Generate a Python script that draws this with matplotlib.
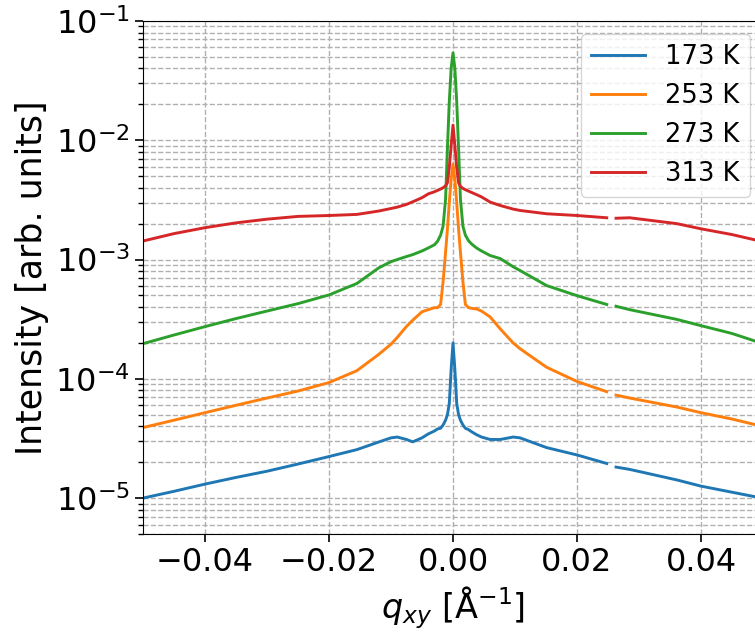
import numpy as np
import matplotlib
matplotlib.use("Agg")
import matplotlib.pyplot as plt
from matplotlib.ticker import LogLocator

# q_xy values (Å^-1); NaN entry marks the detector gap
q = [-0.050, -0.045, -0.040, -0.035, -0.030, -0.025, -0.020, -0.0155, -0.012, -0.010, -0.009,
     -0.0075, -0.0065, -0.005, -0.004, -0.003, -0.0025, -0.002, -0.0016, -0.0012, -0.0009,
     -0.0006, -0.0003, 0.0, 0.0003, 0.0006, 0.0009, 0.0012, 0.0016, 0.002, 0.0025, 0.003,
     0.0038, 0.0046, 0.006, 0.0076, 0.0097, 0.0108, 0.0151, 0.020, 0.0248, 0.0255, 0.0263,
     0.0285, 0.0361, 0.040, 0.045, 0.049]

i_173 = [1.0e-5, 1.14e-5, 1.31e-5, 1.49e-5, 1.68e-5, 1.93e-5, 2.23e-5, 2.55e-5, 2.95e-5, 3.2e-5, 3.25e-5,
         3.1e-5, 2.96e-5, 3.2e-5, 3.45e-5, 3.65e-5, 3.8e-5, 3.85e-5, 4.1e-5, 4.5e-5, 5.0e-5,
         6.2e-5, 1.2e-4, 2.0e-4, 1.2e-4, 6.2e-5, 5.0e-5, 4.5e-5, 4.1e-5, 3.85e-5, 3.75e-5, 3.6e-5,
         3.4e-5, 3.25e-5, 3.1e-5, 3.1e-5, 3.25e-5, 3.2e-5, 2.65e-5, 2.30e-5, 1.95e-5, np.nan, 1.82e-5,
         1.74e-5, 1.42e-5, 1.26e-5, 1.12e-5, 1.02e-5]

i_253 = [3.9e-5, 4.5e-5, 5.2e-5, 6.0e-5, 6.9e-5, 7.9e-5, 9.3e-5, 1.17e-4, 1.6e-4, 1.95e-4, 2.22e-4,
         2.75e-4, 3.1e-4, 3.65e-4, 3.8e-4, 3.95e-4, 3.95e-4, 4.2e-4, 6.5e-4, 1.15e-3, 1.8e-3,
         3.0e-3, 4.7e-3, 6.3e-3, 4.7e-3, 3.0e-3, 1.8e-3, 1.15e-3, 6.5e-4, 4.2e-4, 3.95e-4, 3.9e-4,
         3.85e-4, 3.7e-4, 3.3e-4, 2.63e-4, 2.0e-4, 1.79e-4, 1.25e-4, 9.5e-5, 7.8e-5, np.nan, 7.3e-5,
         6.9e-5, 5.8e-5, 5.2e-5, 4.6e-5, 4.1e-5]

i_273 = [1.97e-4, 2.33e-4, 2.74e-4, 3.2e-4, 3.7e-4, 4.27e-4, 5.05e-4, 6.3e-4, 8.5e-4, 9.6e-4, 1.0e-3,
         1.06e-3, 1.1e-3, 1.18e-3, 1.25e-3, 1.33e-3, 1.42e-3, 1.6e-3, 1.9e-3, 3.2e-3, 8.5e-3,
         2.1e-2, 4.0e-2, 5.4e-2, 4.0e-2, 2.1e-2, 8.5e-3, 3.2e-3, 1.9e-3, 1.6e-3, 1.44e-3, 1.35e-3,
         1.25e-3, 1.18e-3, 1.08e-3, 1.02e-3, 8.7e-4, 8.1e-4, 6.05e-4, 4.98e-4, 4.2e-4, np.nan, 4.06e-4,
         3.8e-4, 3.15e-4, 2.79e-4, 2.4e-4, 2.05e-4]

i_313 = [1.43e-3, 1.65e-3, 1.85e-3, 2.03e-3, 2.18e-3, 2.30e-3, 2.34e-3, 2.39e-3, 2.55e-3, 2.68e-3, 2.75e-3,
         2.9e-3, 3.05e-3, 3.3e-3, 3.55e-3, 3.7e-3, 3.8e-3, 3.9e-3, 4.0e-3, 4.15e-3, 4.4e-3,
         5.9e-3, 9.0e-3, 1.34e-2, 9.0e-3, 5.9e-3, 4.4e-3, 4.1e-3, 3.95e-3, 3.85e-3, 3.75e-3, 3.65e-3,
         3.5e-3, 3.35e-3, 3.03e-3, 2.84e-3, 2.65e-3, 2.58e-3, 2.42e-3, 2.34e-3, 2.24e-3, np.nan, 2.22e-3,
         2.24e-3, 2.0e-3, 1.81e-3, 1.62e-3, 1.45e-3]

labels = ["173 K", "253 K", "273 K", "313 K"]
series = [i_173, i_253, i_273, i_313]
colors = ["#1f77b4", "#ff7f0e", "#2ca02c", "#d62728"]
xticks = [-0.04, -0.02, 0.0, 0.02, 0.04]

fig = plt.figure(figsize=(7.55, 6.33), dpi=100)
ax = fig.add_axes([143 / 755, 99 / 633, 620 / 755, 513 / 633])

for vals, lab, c in zip(series, labels, colors):
    ax.plot(q, vals, color=c, lw=2.1, label=lab)

ax.set_yscale("log")
ax.set_xlim(-0.05, 0.05)
ax.set_ylim(5e-6, 1e-1)
ax.set_xticks(xticks)
ax.set_xticklabels([f"{t:.2f}".replace("-", "\u2212") for t in xticks])
ax.yaxis.set_minor_locator(LogLocator(base=10, subs=np.arange(2, 10), numticks=20))

ax.grid(True, which="major", axis="both", linestyle="--", color="#b0b0b0", lw=1)
ax.grid(True, which="minor", axis="y", linestyle="--", color="#b0b0b0", lw=1)
ax.set_axisbelow(True)

ax.tick_params(axis="both", which="major", labelsize=23, length=6, width=1.2)
ax.tick_params(axis="y", which="minor", length=3.5, width=1)

ax.set_xlabel(r"$q_{xy}$ [Å$^{-1}$]", fontsize=24)
ax.set_ylabel("Intensity [arb. units]", fontsize=25)

ax.legend(loc="upper right", fontsize=18.5, handlelength=2.1)

fig.savefig("out.png", dpi=100)
